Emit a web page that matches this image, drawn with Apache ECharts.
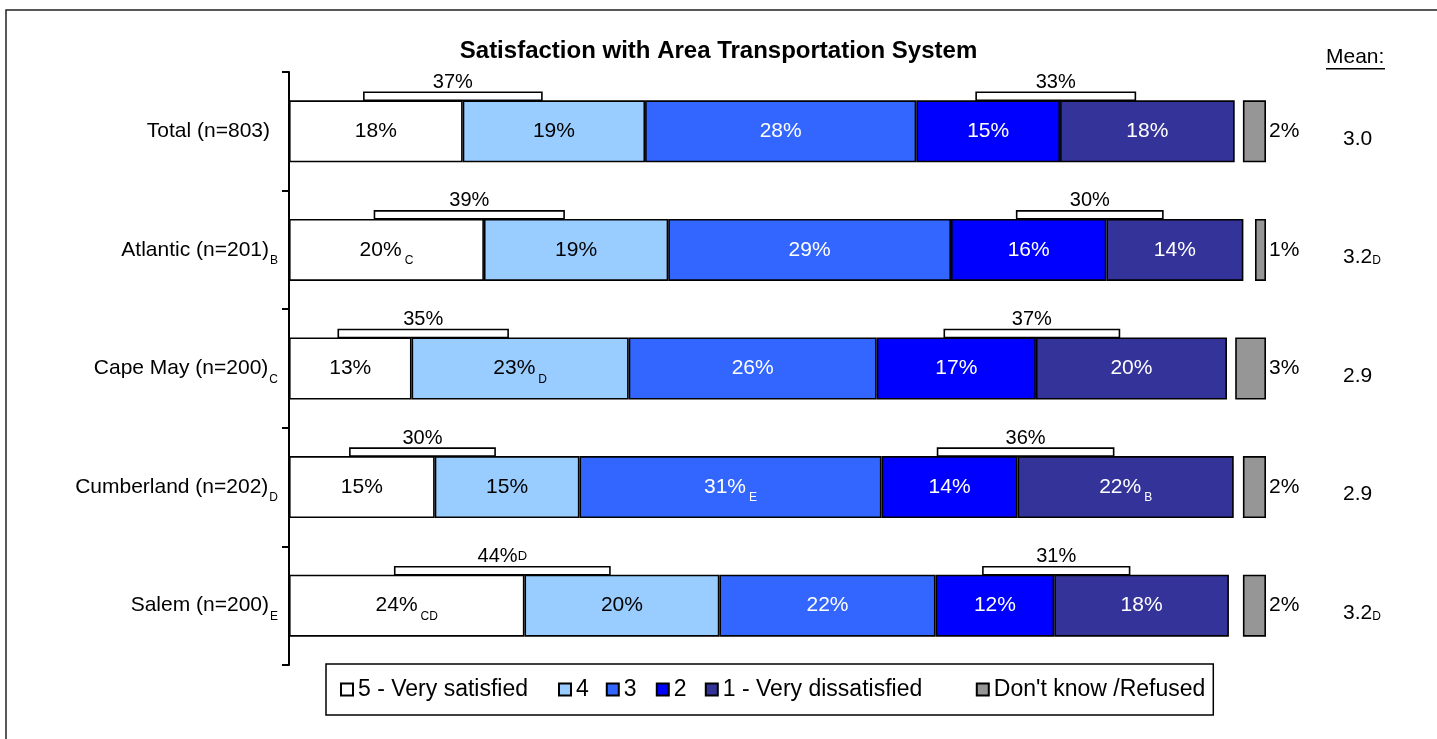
<!DOCTYPE html>
<html>
<head>
<meta charset="utf-8">
<script src="https://cdn.jsdelivr.net/npm/echarts@6/dist/echarts.min.js"></script>
<style>
  html, body { margin: 0; padding: 0; background: #fff; }
  #myChart { width: 1437px; height: 739px; }
</style>
</head>
<body>
<div id="myChart"></div>
<script>
// categories + significance letters
let categories = ['Total (n=803)', 'Atlantic (n=201)', 'Cape May (n=200)', 'Cumberland (n=202)', 'Salem (n=200)'];
let catSig = ['', 'B', 'C', 'D', 'E'];

// percentages per answer (5 = very satisfied ... 1 = very dissatisfied)
let v5 = [18.0, 20.2, 12.7, 15.1, 24.4];
let v4 = [18.9, 19.1, 22.5, 15.0, 20.2];
let v3 = [28.1, 29.3, 25.7, 31.3, 22.4];
let v2 = [14.9, 16.1, 16.5, 14.1, 12.3];
let v1 = [18.1, 14.2, 19.8, 22.4, 18.1];
let dk = [2.1, 1.0, 2.8, 2.1, 2.1];

let sig5 = ['', 'C', '', '', 'CD'];
let sig4 = ['', '', 'D', '', ''];
let sig3 = ['', '', '', 'E', ''];
let sig2 = ['', '', '', '', ''];
let sig1 = ['', '', '', 'B', ''];

// top-2 / bottom-2 box labels
let top2 = [37, 39, 35, 30, 44];
let top2Sig = ['', '', '', '', 'D'];
let bottom2 = [33, 30, 37, 36, 31];

// mean column
let means = ['3.0', '3.2', '2.9', '2.9', '3.2'];
let meanSig = ['', 'D', '', '', 'D'];

let legendNames = ['5 - Very satisfied', '4', '3', '2', '1 - Very dissatisfied', "Don't know /Refused"];
let legendTextW = [183, 12, 15, 14, 236, 210];

let FONT = 'Arial, "Liberation Sans", sans-serif';
let myChart = echarts.init(document.getElementById('myChart'));

function barSeries(name, data, sigs, color, txtColor) {
  return {
    name: name,
    type: 'bar',
    stack: 'all',
    xAxisIndex: 0,
    yAxisIndex: 0,
    barWidth: 62,
    data: data,
    itemStyle: { color: color, borderColor: '#000', borderWidth: 1.6 },
    label: {
      show: true,
      position: 'inside',
      color: txtColor,
      fontFamily: FONT,
      formatter: function (p) {
        let s = sigs[p.dataIndex];
        return '{m|' + Math.round(p.value) + '%}' + (s ? '{s|' + s + '}' : '');
      },
      rich: {
        m: { fontSize: 21, lineHeight: 34, fontFamily: FONT },
        s: { fontSize: 12, lineHeight: 11, verticalAlign: 'bottom', padding: [0, 0, 0, 3], fontFamily: FONT }
      }
    }
  };
}

// bracket boxes above the bars, span from mid of one segment to mid of the next
function bracketSeries(data, labels, sigs) {
  return {
    type: 'custom',
    xAxisIndex: 0,
    yAxisIndex: 0,
    encode: { x: [0, 1], y: 2 },
    data: data,
    z: 5,
    renderItem: function (params, api) {
      let p0 = api.coord([api.value(0), api.value(2)]);
      let p1 = api.coord([api.value(1), api.value(2)]);
      let top = p0[1] - 31;
      let x0 = p0[0] - 12, x1 = p1[0] - 12;
      let i = params.dataIndex;
      let txt = '{m|' + labels[i] + '%}' + (sigs[i] ? '{s|' + sigs[i] + '}' : '');
      return {
        type: 'group',
        children: [
          {
            type: 'rect',
            shape: { x: x0, y: top - 8, width: x1 - x0, height: 8 },
            style: { fill: '#fff', stroke: '#000', lineWidth: 1.6 }
          },
          {
            type: 'text',
            style: {
              text: txt,
              x: (x0 + x1) / 2,
              y: top - 8,
              align: 'center',
              verticalAlign: 'bottom',
              fill: '#000',
              rich: {
                m: { fontSize: 20, fontFamily: FONT, fill: '#000' },
                s: { fontSize: 13, fontFamily: FONT, fill: '#000' }
              }
            }
          }
        ]
      };
    }
  };
}

let topData = categories.map(function (c, i) { return [v5[i] / 2, v5[i] + v4[i] / 2, i]; });
let bottomData = categories.map(function (c, i) {
  let s = v5[i] + v4[i] + v3[i];
  return [s + v2[i] / 2, s + v2[i] + v1[i] / 2, i];
});

let legendRich = {};
legendTextW.forEach(function (w, i) {
  legendRich['l' + i] = { width: w, fontSize: 23, lineHeight: 24, fontFamily: FONT, color: '#000' };
});

let option = {
  animation: false,
  backgroundColor: '#fff',
  title: {
    text: 'Satisfaction with Area Transportation System',
    left: 'center',
    top: 34,
    textStyle: { fontFamily: FONT, fontSize: 24, fontWeight: 'bold', color: '#000' }
  },
  legend: {
    left: 326,
    top: 664,
    padding: [14, 8, 14, 14],
    itemGap: 17,
    itemWidth: 12,
    itemHeight: 12,
    icon: 'rect',
    backgroundColor: '#fff',
    borderColor: '#000',
    borderWidth: 1.5,
    borderRadius: 0,
    formatter: function (name) {
      return '{l' + legendNames.indexOf(name) + '|' + name + '}';
    },
    textStyle: { fontFamily: FONT, fontSize: 23, color: '#000', rich: legendRich },
    data: legendNames
  },
  grid: [
    { left: 289, top: 72, width: 965, height: 593 },
    { left: 1156, top: 72, width: 110, height: 593 }
  ],
  xAxis: [
    { type: 'value', gridIndex: 0, min: 0, max: 100, show: false },
    { type: 'value', gridIndex: 1, min: 0, max: 10, inverse: true, show: false }
  ],
  yAxis: [
    {
      type: 'category',
      gridIndex: 0,
      inverse: true,
      data: categories,
      axisLine: { show: true, lineStyle: { color: '#000', width: 2 } },
      axisTick: { show: true, interval: 0, alignWithLabel: false, length: 7, lineStyle: { color: '#000', width: 2 } },
      axisLabel: {
        margin: 11,
        color: '#000',
        fontFamily: FONT,
        formatter: function (v, i) {
          let s = catSig[i];
          return '{m|' + v + '}' + (s ? '{s|' + s + '}' : '{pad|}');
        },
        rich: {
          m: { fontSize: 21, lineHeight: 34, fontFamily: FONT },
          s: { fontSize: 12, lineHeight: 11, verticalAlign: 'bottom', padding: [0, 0, 0, 1], fontFamily: FONT },
          pad: { width: 8 }
        }
      }
    },
    {
      type: 'category',
      gridIndex: 1,
      inverse: true,
      data: categories,
      show: false
    },
    {
      type: 'category',
      gridIndex: 0,
      position: 'right',
      inverse: true,
      data: categories,
      axisLine: { show: false },
      axisTick: { show: false },
      axisLabel: {
        margin: 89,
        align: 'left',
        color: '#000',
        formatter: function (v, i) {
          return '{m|' + means[i] + '}' + (meanSig[i] ? '{s|' + meanSig[i] + '}' : '');
        },
        rich: {
          m: { fontSize: 21, lineHeight: 34, padding: [15, 0, 0, 0], fontFamily: FONT },
          s: { fontSize: 12, lineHeight: 11, verticalAlign: 'bottom', fontFamily: FONT }
        }
      }
    }
  ],
  graphic: [
    {
      type: 'rect',
      shape: { x: 6, y: 10, width: 1500, height: 800 },
      style: { fill: 'none', stroke: '#222', lineWidth: 1.5 },
      silent: true
    },
    {
      type: 'text',
      left: 1326,
      top: 47,
      style: { text: 'Mean:', fontSize: 21, fontFamily: FONT, fill: '#000' }
    },
    {
      type: 'rect',
      shape: { x: 1326, y: 68, width: 59, height: 1.5 },
      style: { fill: '#000' }
    }
  ],
  series: [
    barSeries('5 - Very satisfied', v5, sig5, '#FFFFFF', '#000'),
    barSeries('4', v4, sig4, '#99CCFF', '#000'),
    barSeries('3', v3, sig3, '#3366FF', '#fff'),
    barSeries('2', v2, sig2, '#0000FF', '#fff'),
    barSeries('1 - Very dissatisfied', v1, sig1, '#333399', '#fff'),
    {
      name: "Don't know /Refused",
      type: 'bar',
      xAxisIndex: 1,
      yAxisIndex: 1,
      barWidth: 62,
      data: dk,
      itemStyle: { color: '#969696', borderColor: '#000', borderWidth: 1.6 },
      label: {
        show: true,
        position: 'right',
        distance: 3,
        color: '#000',
        fontFamily: FONT,
        fontSize: 21,
        formatter: function (p) { return Math.round(p.value) + '%'; }
      }
    },
    bracketSeries(topData, top2, top2Sig),
    bracketSeries(bottomData, bottom2, ['', '', '', '', ''])
  ]
};
myChart.setOption(option);
</script>
</body>
</html>
